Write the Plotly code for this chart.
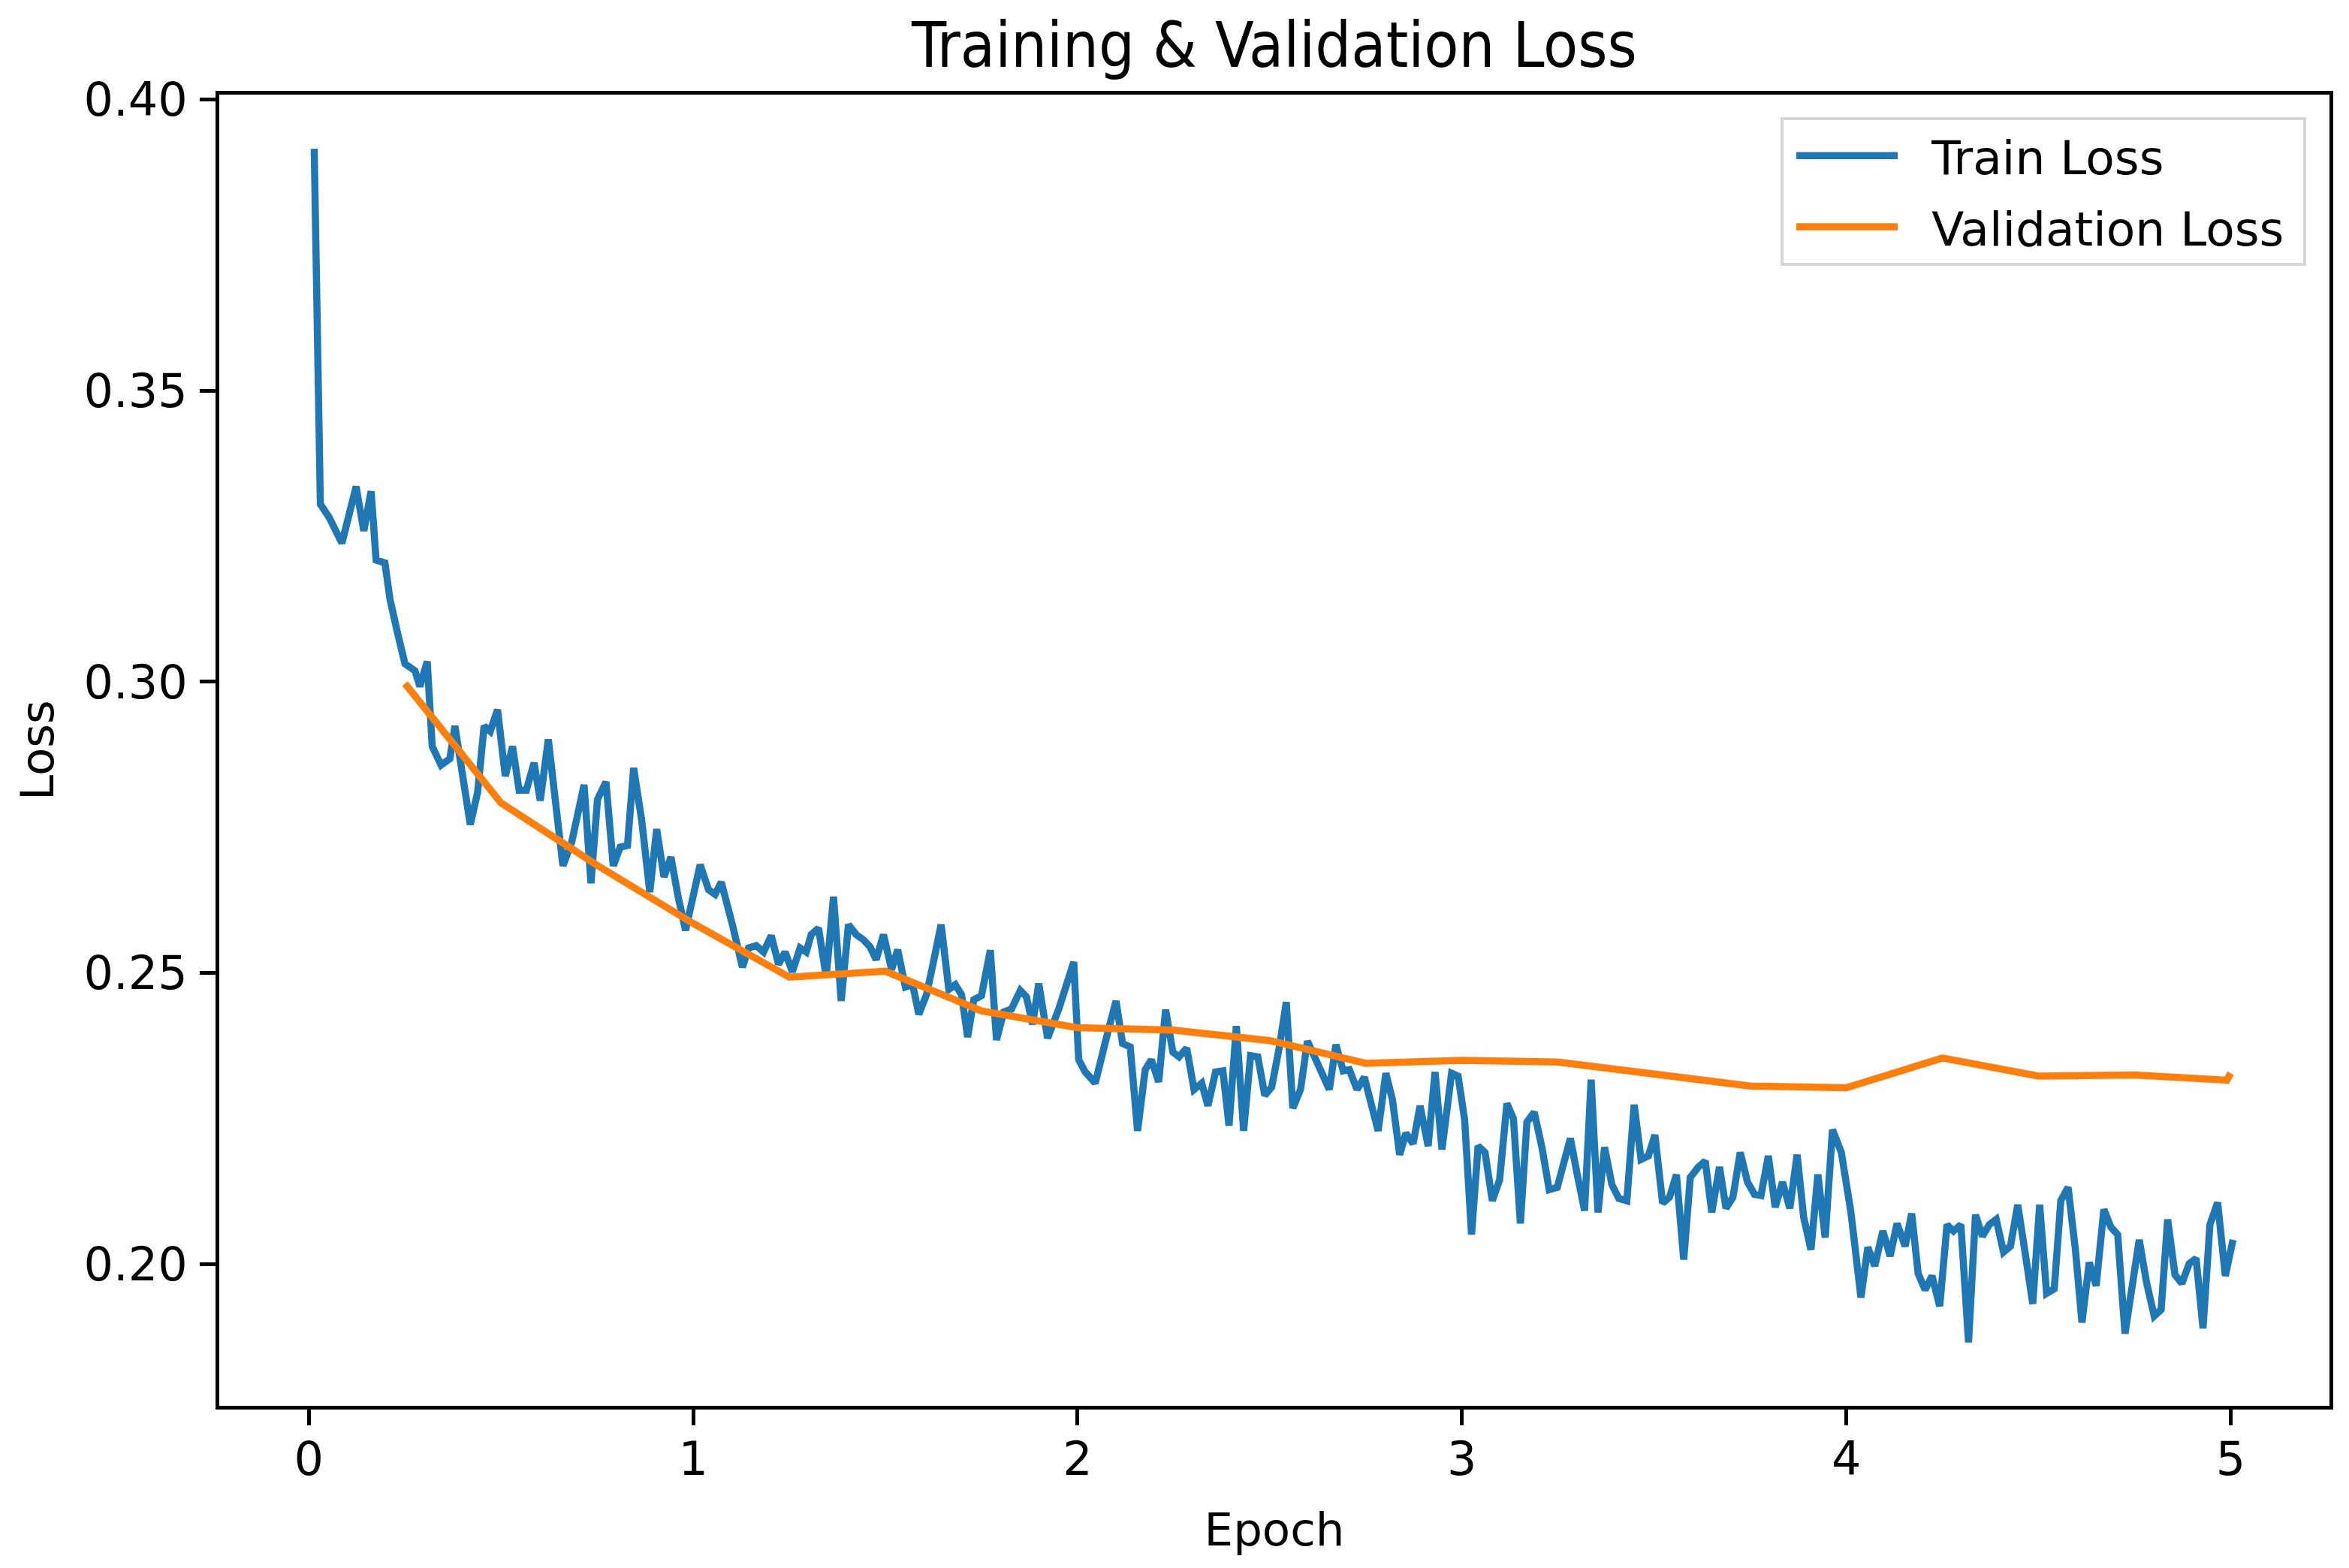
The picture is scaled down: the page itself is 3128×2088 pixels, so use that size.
import plotly.graph_objects as go

# Courbes de loss (epoch, valeur)

train_epoch = [
    0.014, 0.030, 0.053, 0.086, 0.123, 0.143, 0.162, 0.175, 0.198, 0.211,
    0.230, 0.250, 0.276, 0.289, 0.308, 0.321, 0.344, 0.367, 0.380, 0.420,
    0.439, 0.456, 0.472, 0.491, 0.511, 0.530, 0.547, 0.566, 0.586, 0.602,
    0.623, 0.661, 0.684, 0.716, 0.734, 0.751, 0.773, 0.792, 0.810, 0.829,
    0.845, 0.866, 0.887, 0.905, 0.924, 0.942, 0.961, 0.980,
    1.018, 1.040, 1.057, 1.073, 1.102, 1.128, 1.144, 1.164, 1.183, 1.203,
    1.222, 1.239, 1.258, 1.278, 1.294, 1.307, 1.326, 1.346, 1.365, 1.385,
    1.404, 1.424, 1.443, 1.460, 1.476, 1.495, 1.516, 1.532, 1.552, 1.571,
    1.587, 1.607, 1.625, 1.645, 1.665, 1.682, 1.698, 1.714, 1.730, 1.750,
    1.773, 1.789, 1.808, 1.828, 1.851, 1.867, 1.883, 1.899, 1.922, 1.952,
    1.990, 2.003, 2.020, 2.046, 2.072, 2.100, 2.117, 2.137, 2.156, 2.176,
    2.192, 2.211, 2.229, 2.248, 2.264, 2.284, 2.303, 2.323, 2.339, 2.359,
    2.378, 2.394, 2.413, 2.432, 2.450, 2.469, 2.487, 2.505, 2.525, 2.543,
    2.560, 2.580, 2.598, 2.616, 2.636, 2.655, 2.672, 2.691, 2.707, 2.727,
    2.746, 2.766, 2.782, 2.802, 2.819, 2.838, 2.854, 2.873, 2.891, 2.912,
    2.930, 2.948,
    2.973, 2.990, 3.007, 3.025, 3.042, 3.060, 3.079, 3.098, 3.117, 3.134,
    3.152, 3.169, 3.188, 3.208, 3.227, 3.248, 3.265, 3.282, 3.300, 3.319,
    3.336, 3.354, 3.371, 3.390, 3.408, 3.429, 3.448, 3.466, 3.485, 3.502,
    3.522, 3.540, 3.558, 3.577, 3.594, 3.615, 3.633, 3.650, 3.670, 3.687,
    3.705, 3.724, 3.743, 3.761, 3.778, 3.797, 3.815, 3.834, 3.853, 3.872,
    3.889, 3.908, 3.926, 3.945, 3.964,
    3.987, 4.012, 4.038, 4.056, 4.074, 4.095, 4.114, 4.132, 4.153, 4.170,
    4.187, 4.205, 4.223, 4.243, 4.262, 4.279, 4.298, 4.318, 4.336, 4.354,
    4.372, 4.390, 4.409, 4.427, 4.446, 4.467, 4.485, 4.503, 4.521, 4.541,
    4.558, 4.577, 4.596, 4.613, 4.632, 4.650, 4.670, 4.688, 4.706, 4.725,
    4.743, 4.762, 4.781, 4.801, 4.819, 4.836, 4.855, 4.873, 4.892, 4.910,
    4.928, 4.946, 4.966, 4.986, 5.006,
]

train_loss = [
    0.3915, 0.3305, 0.3282, 0.3238, 0.3335, 0.3259, 0.3327, 0.3209, 0.3204, 0.3142,
    0.3086, 0.3031, 0.3019, 0.2992, 0.3035, 0.2889, 0.2857, 0.2868, 0.2924, 0.2755,
    0.2810, 0.2924, 0.2915, 0.2952, 0.2838, 0.2889, 0.2814, 0.2814, 0.2861, 0.2796,
    0.2901, 0.2684, 0.2725, 0.2823, 0.2654, 0.2798, 0.2828, 0.2684, 0.2716, 0.2719,
    0.2852, 0.2762, 0.2639, 0.2747, 0.2665, 0.2699, 0.2630, 0.2573,
    0.2686, 0.2643, 0.2635, 0.2656, 0.2583, 0.2510, 0.2543, 0.2547, 0.2536, 0.2564,
    0.2515, 0.2536, 0.2502, 0.2543, 0.2536, 0.2566, 0.2577, 0.2493, 0.2631, 0.2452,
    0.2583, 0.2566, 0.2557, 0.2545, 0.2523, 0.2566, 0.2506, 0.2540, 0.2476, 0.2480,
    0.2429, 0.2463, 0.2519, 0.2583, 0.2472, 0.2480, 0.2463, 0.2390, 0.2454, 0.2461,
    0.2539, 0.2385, 0.2433, 0.2438, 0.2470, 0.2459, 0.2412, 0.2482, 0.2388, 0.2440,
    0.2519, 0.2351, 0.2330, 0.2311, 0.2381, 0.2452, 0.2379, 0.2373, 0.2229, 0.2334,
    0.2351, 0.2313, 0.2437, 0.2364, 0.2356, 0.2371, 0.2300, 0.2311, 0.2272, 0.2330,
    0.2332, 0.2238, 0.2409, 0.2229, 0.2358, 0.2356, 0.2290, 0.2304, 0.2373, 0.2450,
    0.2268, 0.2300, 0.2383, 0.2356, 0.2321, 0.2300, 0.2377, 0.2332, 0.2334, 0.2300,
    0.2321, 0.2265, 0.2229, 0.2328, 0.2283, 0.2188, 0.2225, 0.2207, 0.2272, 0.2203,
    0.2330, 0.2197,
    0.2328, 0.2323, 0.2248, 0.2051, 0.2203, 0.2192, 0.2109, 0.2145, 0.2276, 0.2250,
    0.2070, 0.2244, 0.2261, 0.2201, 0.2128, 0.2132, 0.2175, 0.2216, 0.2154, 0.2092,
    0.2317, 0.2089, 0.2201, 0.2137, 0.2113, 0.2109, 0.2274, 0.2180, 0.2186, 0.2222,
    0.2105, 0.2115, 0.2154, 0.2008, 0.2149, 0.2167, 0.2177, 0.2089, 0.2167, 0.2096,
    0.2115, 0.2192, 0.2141, 0.2120, 0.2118, 0.2186, 0.2098, 0.2141, 0.2096, 0.2188,
    0.2081, 0.2025, 0.2154, 0.2046, 0.2231,
    0.2192, 0.2089, 0.1943, 0.2029, 0.1997, 0.2057, 0.2014, 0.2070, 0.2031, 0.2087,
    0.1984, 0.1956, 0.1980, 0.1928, 0.2068, 0.2057, 0.2068, 0.1866, 0.2085, 0.2048,
    0.2068, 0.2077, 0.2021, 0.2031, 0.2102, 0.2012, 0.1932, 0.2102, 0.1950, 0.1958,
    0.2109, 0.2132, 0.2025, 0.1900, 0.2003, 0.1963, 0.2094, 0.2064, 0.2051, 0.1881,
    0.1969, 0.2042, 0.1969, 0.1911, 0.1922, 0.2077, 0.1982, 0.1967, 0.2001, 0.2010,
    0.1890, 0.2068, 0.2106, 0.1980, 0.2042,
]

val_epoch = [0.25, 0.5, 0.75, 1.0, 1.25, 1.5, 1.75, 2.0, 2.25, 2.5, 2.75,
             3.0, 3.25, 3.5, 3.75, 4.0, 4.25, 4.5, 4.75, 4.99, 5.0]
val_loss = [0.2997, 0.2792, 0.2685, 0.2585, 0.2493, 0.2503, 0.2435, 0.2406,
            0.2402, 0.2384, 0.2345, 0.2350, 0.2347, 0.2326, 0.2306, 0.2303,
            0.2354, 0.2323, 0.2325, 0.2316, 0.2328]

x_ticks = [0, 1, 2, 3, 4, 5]
y_ticks = [0.20, 0.25, 0.30, 0.35, 0.40]

FONT = "DejaVu Sans, sans-serif"
TITLE_FONT = "DejaVu Sans Condensed, DejaVu Sans, sans-serif"
GAP = "\u00a0\u00a0"  # espace entre le trait et le texte de la légende
PAD = "\u00a0"        # marge à droite du texte dans le cadre

# la page HTML ajoute 8 px de marge autour de la figure : on la réduit d'autant
W, H = 3120, 2080

fig = go.Figure()

fig.add_trace(go.Scatter(
    x=train_epoch, y=train_loss,
    mode="lines",
    line=dict(color="#1f77b4", width=9.5),
    name=GAP + "Train Loss" + PAD,
    legendgroup="train",
))

fig.add_trace(go.Scatter(
    x=val_epoch, y=val_loss,
    mode="lines",
    line=dict(color="#ff7f0e", width=9.5),
    name=GAP + "Validation Loss" + PAD,
    legendgroup="val",
))

# Axes façon matplotlib : cadre noir, ticks vers l'extérieur, pas de grille
axis_style = dict(
    showgrid=False,
    zeroline=False,
    showline=True,
    linecolor="black",
    linewidth=5,
    mirror=True,
    ticks="outside",
    ticklen=21,
    tickwidth=5,
    tickcolor="black",
    tickfont=dict(family=FONT, size=62, color="black"),
)

fig.update_xaxes(
    **axis_style,
    range=[-0.233, 5.257],
    tickvals=x_ticks,
    ticklabelstandoff=-8,
    title=dict(text="Epoch", font=dict(family=FONT, size=61, color="black"), standoff=38),
)
fig.update_yaxes(
    **axis_style,
    range=[0.1757, 0.4008],
    tickvals=y_ticks,
    tickformat=".2f",
    ticklabelstandoff=4,
    title=dict(text="Loss", font=dict(family=FONT, size=61, color="black"), standoff=22),
)

fig.update_layout(
    width=W,
    height=H,
    margin=dict(l=284, r=26, t=118, b=216),
    plot_bgcolor="white",
    paper_bgcolor="white",
    font=dict(family=FONT, color="black"),
    title=dict(
        text="Training & Validation Loss",
        font=dict(family=TITLE_FONT, size=84, color="black"),
        x=0.5, xref="paper",
        y=1 - 52 / H, yref="container", yanchor="middle",
    ),
    legend=dict(
        x=0.989, y=0.983, xanchor="right", yanchor="top",
        bgcolor="rgba(255,255,255,0.8)",
        bordercolor="#d6d6d6",
        borderwidth=4,
        font=dict(family=FONT, size=63, color="black"),
        itemwidth=135,
        indentation=12,
        tracegroupgap=10,
    ),
)

fig.write_html("out.html")
